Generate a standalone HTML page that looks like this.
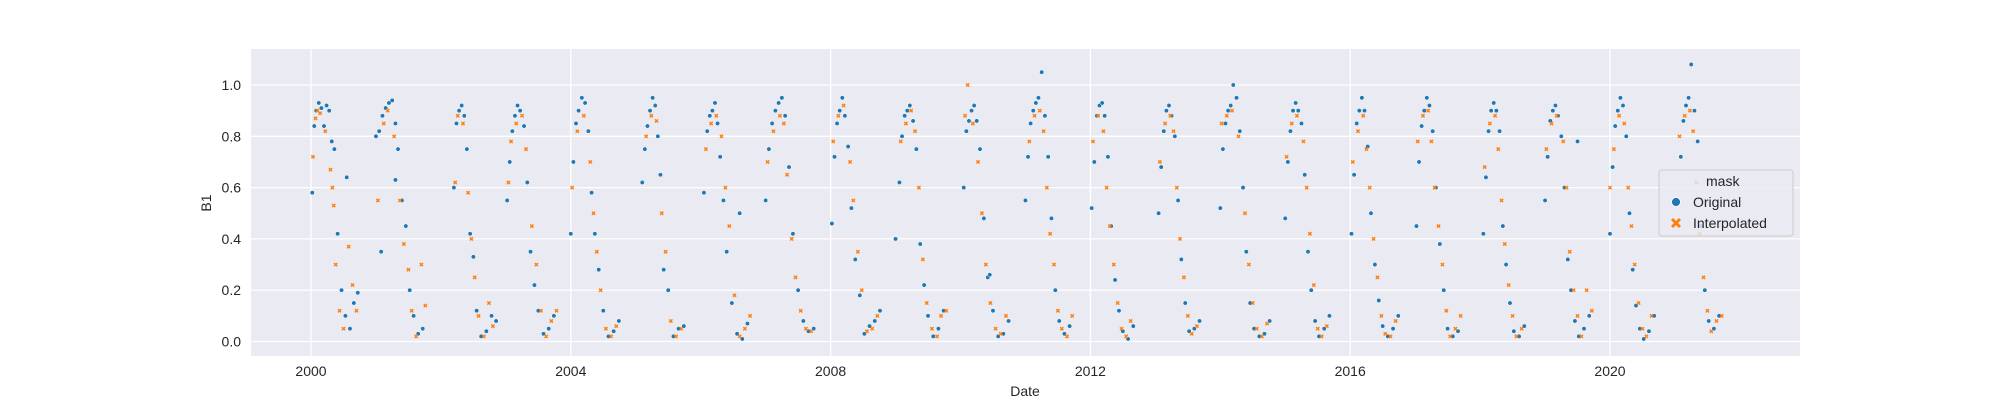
<!DOCTYPE html>
<html><head><meta charset="utf-8">
<style>
body{margin:0;background:#fff;}
svg{display:block;font-family:"Liberation Sans","DejaVu Sans",sans-serif;}
</style></head>
<body>
<svg id="chart" width="2000" height="400" viewBox="0 0 2000 400">
  <rect x="251" y="49" width="1549" height="307" fill="#eaeaf2"/>
  <g id="grid"></g>
  <g id="xticks"></g>
  <g id="yticks"></g>
  <g id="marks"></g>
  <text x="1025" y="396" font-size="14" fill="#262626" text-anchor="middle">Date</text>
  <text x="0" y="0" font-size="14" fill="#262626" text-anchor="middle" transform="translate(211,203) rotate(-90)">B1</text>
  <g>
    <rect x="1659" y="170" width="134" height="66" rx="3" fill="#eaeaf2" fill-opacity="0.8" stroke="#cccccc"/>
    <text x="1706" y="186" font-size="14" fill="#262626">mask</text>
    <g>
      <circle cx="1676" cy="202" r="4.5" fill="#1f77b4" stroke="#fff" stroke-width="0.8"/>
      <text x="1693" y="207" font-size="14" fill="#262626">Original</text>
    </g>
    <g>
      <path d="M1672,219 L1680,227 M1680,219 L1672,227" stroke="#ff7f0e" stroke-width="3"/>
      <text x="1693" y="228" font-size="14" fill="#262626">Interpolated</text>
    </g>
  </g>
</svg>
<script>
const xTickYears=[2000,2004,2008,2012,2016,2020];
const yTickValues=[0.0,0.2,0.4,0.6,0.8,1.0];
const yTickLabels=["0.0","0.2","0.4","0.6","0.8","1.0"];
const origDates=[
2000.02,2000.05,2000.08,2000.12,2000.16,2000.2,2000.24,2000.28,2000.32,2000.36,2000.41,2000.47,2000.53,2000.6,2000.66,2000.72,2000.55,
2001.0,2001.05,2001.1,2001.15,2001.2,2001.25,2001.3,2001.34,2001.4,2001.46,2001.52,2001.58,2001.65,2001.72,2001.3,2001.08,
2002.2,2002.24,2002.28,2002.32,2002.36,2002.4,2002.45,2002.5,2002.55,2002.62,2002.7,2002.78,2002.85,
2003.02,2003.06,2003.1,2003.14,2003.18,2003.22,2003.28,2003.33,2003.38,2003.44,2003.5,2003.58,2003.66,2003.74,
2004.0,2004.04,2004.08,2004.12,2004.17,2004.22,2004.27,2004.32,2004.37,2004.43,2004.5,2004.58,2004.66,2004.74,
2005.1,2005.14,2005.18,2005.22,2005.26,2005.3,2005.34,2005.38,2005.43,2005.5,2005.58,2005.66,2005.74,
2006.05,2006.1,2006.14,2006.18,2006.22,2006.26,2006.3,2006.35,2006.4,2006.48,2006.56,2006.64,2006.72,2006.6,
2007.0,2007.05,2007.1,2007.15,2007.2,2007.25,2007.3,2007.36,2007.42,2007.5,2007.58,2007.66,2007.74,
2008.02,2008.06,2008.1,2008.14,2008.18,2008.22,2008.27,2008.32,2008.38,2008.45,2008.52,2008.6,2008.68,2008.76,
2009.0,2009.06,2009.1,2009.14,2009.18,2009.22,2009.27,2009.32,2009.38,2009.44,2009.5,2009.58,2009.66,2009.74,
2010.05,2010.09,2010.13,2010.17,2010.21,2010.25,2010.3,2010.36,2010.42,2010.5,2010.58,2010.66,2010.74,2010.45,
2011.0,2011.04,2011.08,2011.12,2011.16,2011.2,2011.25,2011.3,2011.35,2011.4,2011.46,2011.52,2011.6,2011.68,
2012.02,2012.06,2012.1,2012.14,2012.18,2012.22,2012.27,2012.32,2012.38,2012.44,2012.5,2012.58,2012.66,
2013.05,2013.09,2013.13,2013.17,2013.21,2013.25,2013.3,2013.35,2013.4,2013.46,2013.52,2013.6,2013.68,
2014.0,2014.04,2014.08,2014.12,2014.16,2014.2,2014.25,2014.3,2014.35,2014.4,2014.46,2014.52,2014.6,2014.68,2014.76,
2015.0,2015.04,2015.08,2015.12,2015.16,2015.2,2015.25,2015.3,2015.35,2015.4,2015.46,2015.52,2015.6,2015.68,
2016.02,2016.06,2016.1,2016.14,2016.18,2016.22,2016.27,2016.32,2016.38,2016.44,2016.5,2016.58,2016.66,2016.74,
2017.02,2017.06,2017.1,2017.14,2017.18,2017.22,2017.27,2017.32,2017.38,2017.44,2017.5,2017.58,2017.66,
2018.05,2018.09,2018.13,2018.17,2018.21,2018.25,2018.3,2018.35,2018.4,2018.46,2018.52,2018.6,2018.68,
2019.0,2019.04,2019.08,2019.12,2019.16,2019.2,2019.25,2019.3,2019.35,2019.4,2019.46,2019.52,2019.6,2019.68,2019.5,
2020.0,2020.04,2020.08,2020.12,2020.16,2020.2,2020.25,2020.3,2020.35,2020.4,2020.46,2020.52,2020.6,2020.68,
2021.05,2021.09,2021.13,2021.17,2021.21,2021.25,2021.3,2021.35,2021.4,2021.46,2021.52,2021.6,2021.68];
const origValues=[
0.58,0.84,0.9,0.93,0.91,0.84,0.92,0.9,0.78,0.75,0.42,0.2,0.1,0.05,0.15,0.19,0.64,
0.8,0.82,0.88,0.91,0.93,0.94,0.85,0.75,0.55,0.45,0.2,0.1,0.03,0.05,0.63,0.35,
0.6,0.85,0.9,0.92,0.88,0.75,0.42,0.33,0.12,0.02,0.04,0.1,0.08,
0.55,0.7,0.82,0.88,0.92,0.9,0.84,0.62,0.35,0.22,0.12,0.03,0.05,0.1,
0.42,0.7,0.85,0.9,0.95,0.93,0.82,0.58,0.42,0.28,0.12,0.02,0.04,0.08,
0.62,0.75,0.84,0.9,0.95,0.92,0.8,0.65,0.28,0.2,0.02,0.05,0.06,
0.58,0.82,0.88,0.9,0.93,0.85,0.72,0.55,0.35,0.15,0.03,0.01,0.07,0.5,
0.55,0.75,0.85,0.9,0.93,0.95,0.88,0.68,0.42,0.2,0.08,0.04,0.05,
0.46,0.72,0.85,0.9,0.95,0.88,0.76,0.52,0.32,0.18,0.03,0.06,0.08,0.12,
0.4,0.62,0.8,0.88,0.9,0.92,0.86,0.75,0.38,0.22,0.1,0.02,0.05,0.12,
0.6,0.82,0.86,0.9,0.92,0.86,0.75,0.48,0.25,0.12,0.02,0.03,0.08,0.26,
0.55,0.72,0.85,0.9,0.93,0.95,1.05,0.88,0.72,0.48,0.2,0.08,0.03,0.06,
0.52,0.7,0.88,0.92,0.93,0.88,0.72,0.45,0.24,0.12,0.04,0.01,0.06,
0.5,0.68,0.82,0.9,0.92,0.88,0.8,0.55,0.32,0.15,0.04,0.05,0.08,
0.52,0.75,0.85,0.9,0.92,1.0,0.95,0.82,0.6,0.35,0.15,0.05,0.02,0.03,0.08,
0.48,0.7,0.82,0.9,0.93,0.9,0.85,0.65,0.35,0.2,0.08,0.02,0.05,0.1,
0.42,0.65,0.85,0.9,0.95,0.9,0.76,0.5,0.3,0.16,0.06,0.02,0.05,0.1,
0.45,0.7,0.84,0.9,0.95,0.92,0.82,0.6,0.38,0.2,0.05,0.02,0.04,
0.42,0.64,0.82,0.9,0.93,0.9,0.82,0.45,0.3,0.15,0.04,0.02,0.06,
0.55,0.72,0.86,0.9,0.92,0.88,0.8,0.6,0.32,0.2,0.08,0.02,0.05,0.1,0.78,
0.42,0.68,0.84,0.9,0.95,0.92,0.8,0.5,0.28,0.14,0.05,0.01,0.04,0.1,
0.55,0.72,0.86,0.92,0.95,1.08,0.9,0.78,0.45,0.2,0.08,0.05,0.1];
const interpDates=[
2000.03,2000.07,2000.1,2000.14,2000.22,2000.3,2000.33,2000.35,2000.38,2000.44,2000.5,2000.58,2000.64,2000.7,
2001.03,2001.12,2001.18,2001.28,2001.37,2001.43,2001.5,2001.55,2001.62,2001.7,2001.76,
2002.22,2002.26,2002.34,2002.42,2002.47,2002.52,2002.58,2002.66,2002.74,2002.8,
2003.04,2003.08,2003.16,2003.25,2003.31,2003.4,2003.47,2003.54,2003.62,2003.7,2003.78,
2004.02,2004.1,2004.2,2004.3,2004.35,2004.4,2004.46,2004.54,2004.62,2004.7,
2005.16,2005.24,2005.32,2005.4,2005.46,2005.54,2005.62,2005.7,
2006.08,2006.16,2006.24,2006.32,2006.38,2006.44,2006.52,2006.6,2006.68,2006.76,
2007.03,2007.12,2007.22,2007.28,2007.33,2007.4,2007.46,2007.54,2007.62,2007.7,
2008.04,2008.12,2008.2,2008.3,2008.35,2008.42,2008.48,2008.56,2008.64,2008.72,
2009.08,2009.16,2009.24,2009.3,2009.36,2009.42,2009.48,2009.56,2009.64,2009.7,2009.78,
2010.07,2010.11,2010.19,2010.27,2010.33,2010.39,2010.46,2010.54,2010.62,2010.7,
2011.06,2011.14,2011.22,2011.28,2011.33,2011.38,2011.44,2011.5,2011.56,2011.64,2011.72,
2012.04,2012.12,2012.2,2012.25,2012.3,2012.36,2012.42,2012.48,2012.55,2012.62,
2013.07,2013.15,2013.23,2013.28,2013.33,2013.38,2013.44,2013.5,2013.56,2013.64,
2014.02,2014.1,2014.18,2014.28,2014.38,2014.44,2014.5,2014.56,2014.64,2014.72,
2015.02,2015.1,2015.18,2015.28,2015.33,2015.38,2015.44,2015.5,2015.56,2015.64,
2016.04,2016.12,2016.2,2016.25,2016.3,2016.36,2016.42,2016.48,2016.54,2016.62,2016.7,
2017.04,2017.12,2017.2,2017.25,2017.3,2017.36,2017.42,2017.48,2017.54,2017.62,2017.7,
2018.07,2018.15,2018.23,2018.28,2018.33,2018.38,2018.44,2018.5,2018.56,2018.64,
2019.02,2019.1,2019.18,2019.28,2019.33,2019.38,2019.44,2019.5,2019.56,2019.64,2019.72,
2020.0,2020.06,2020.14,2020.22,2020.28,2020.33,2020.38,2020.44,2020.5,2020.56,2020.64,
2021.07,2021.15,2021.23,2021.28,2021.33,2021.38,2021.44,2021.5,2021.56,2021.64,2021.72];
const interpValues=[
0.72,0.87,0.9,0.89,0.82,0.67,0.6,0.53,0.3,0.12,0.05,0.37,0.22,0.12,
0.55,0.85,0.9,0.8,0.55,0.38,0.28,0.12,0.02,0.3,0.14,
0.62,0.88,0.85,0.58,0.4,0.25,0.1,0.02,0.15,0.06,
0.62,0.78,0.85,0.88,0.75,0.45,0.3,0.12,0.02,0.08,0.12,
0.6,0.82,0.88,0.7,0.5,0.35,0.2,0.05,0.02,0.06,
0.8,0.88,0.86,0.5,0.35,0.08,0.02,0.05,
0.75,0.85,0.88,0.8,0.6,0.45,0.18,0.02,0.05,0.1,
0.7,0.82,0.88,0.85,0.65,0.4,0.25,0.12,0.05,0.04,
0.78,0.88,0.92,0.7,0.55,0.35,0.2,0.04,0.05,0.1,
0.78,0.85,0.9,0.82,0.6,0.32,0.15,0.05,0.02,0.1,0.12,
0.88,1.0,0.85,0.7,0.5,0.3,0.15,0.05,0.03,0.1,
0.78,0.88,0.9,0.82,0.6,0.42,0.3,0.12,0.05,0.02,0.1,
0.78,0.88,0.82,0.6,0.45,0.3,0.15,0.05,0.02,0.08,
0.7,0.85,0.88,0.82,0.6,0.4,0.25,0.1,0.03,0.06,
0.85,0.88,0.9,0.8,0.5,0.3,0.15,0.05,0.02,0.07,
0.72,0.85,0.88,0.78,0.6,0.42,0.22,0.05,0.02,0.06,
0.7,0.82,0.88,0.75,0.6,0.4,0.25,0.1,0.03,0.02,0.08,
0.78,0.88,0.9,0.78,0.6,0.45,0.3,0.12,0.02,0.05,0.1,
0.68,0.85,0.88,0.75,0.55,0.38,0.22,0.1,0.02,0.05,
0.75,0.85,0.88,0.78,0.6,0.35,0.2,0.1,0.02,0.2,0.12,
0.6,0.75,0.88,0.85,0.6,0.45,0.3,0.15,0.05,0.02,0.1,
0.8,0.88,0.9,0.82,0.62,0.42,0.25,0.12,0.04,0.08,0.1];

const X0=251,X1=1800,Y0=49,Y1=356;
function xScale(yr){return 311+(yr-2000)*64.95;}
function yScale(v){return 341.5-v*256.5;}
const NS="http://www.w3.org/2000/svg";
const grid=document.getElementById('grid'),xt=document.getElementById('xticks'),yt=document.getElementById('yticks'),marks=document.getElementById('marks');
xTickYears.forEach(yr=>{
  const x=xScale(yr);
  const l=document.createElementNS(NS,'line');
  
  
  l.setAttribute('x1',x);l.setAttribute('x2',x);l.setAttribute('y1',Y0);l.setAttribute('y2',Y1);
  l.setAttribute('stroke','#fff');l.setAttribute('stroke-width','1.3');grid.appendChild(l);
  const t=document.createElementNS(NS,'text');
  
  
  t.setAttribute('x',x);t.setAttribute('y',376);t.setAttribute('font-size','14');t.setAttribute('fill','#262626');t.setAttribute('text-anchor','middle');
  t.textContent=yr;xt.appendChild(t);
});
yTickValues.forEach((v,i)=>{
  const y=yScale(v);
  const l=document.createElementNS(NS,'line');
  
  
  l.setAttribute('x1',X0);l.setAttribute('x2',X1);l.setAttribute('y1',y);l.setAttribute('y2',y);
  l.setAttribute('stroke','#fff');l.setAttribute('stroke-width','1.3');grid.appendChild(l);
  const t=document.createElementNS(NS,'text');
  
  
  t.setAttribute('x',241);t.setAttribute('y',y+5);t.setAttribute('font-size','14');t.setAttribute('fill','#262626');t.setAttribute('text-anchor','end');
  t.textContent=yTickLabels[i];yt.appendChild(t);
});
origDates.forEach((d,i)=>{
  const c=document.createElementNS(NS,'circle');
  
  
  c.setAttribute('cx',xScale(d));c.setAttribute('cy',yScale(origValues[i]));c.setAttribute('r','2.2');
  c.setAttribute('fill','#1f77b4');c.setAttribute('stroke','#fff');c.setAttribute('stroke-width','0.5');
  marks.appendChild(c);
});
interpDates.forEach((d,i)=>{
  const x=xScale(d),y=yScale(interpValues[i]);
  const p=document.createElementNS(NS,'path');
  
  
  p.setAttribute('d',`M${x-1.6},${y-1.6}L${x+1.6},${y+1.6}M${x+1.6},${y-1.6}L${x-1.6},${y+1.6}`);
  p.setAttribute('stroke','#ff7f0e');p.setAttribute('stroke-width','1.4');
  marks.appendChild(p);
});
</script>
</body></html>
